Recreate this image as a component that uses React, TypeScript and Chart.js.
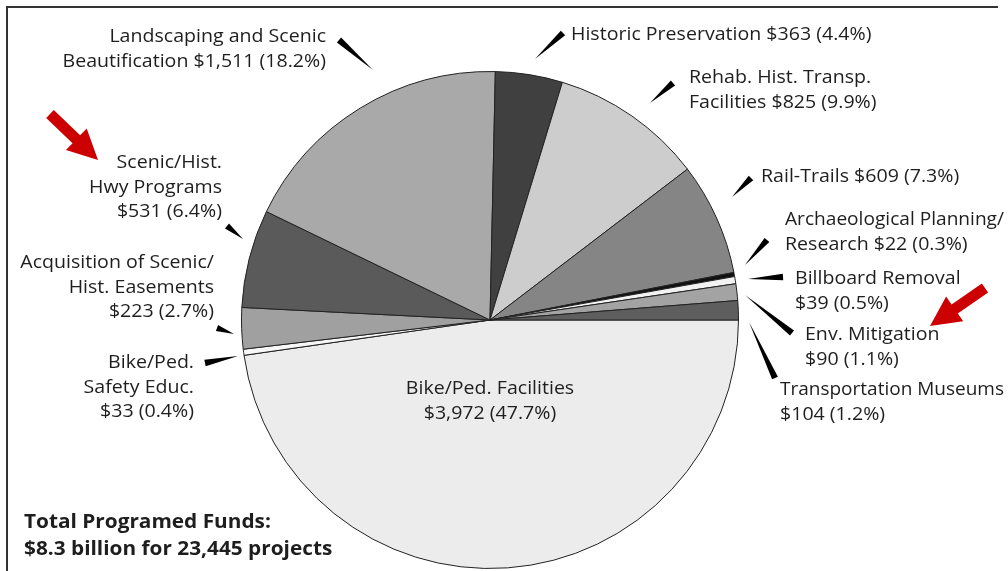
import React, { useEffect, useRef } from "react";
import { Chart, registerables } from "chart.js";

Chart.register(...registerables);

// ---- Data (millions of dollars, share of total) ----
const categories = [
  "Bike/Ped. Facilities",
  "Bike/Ped. Safety Educ.",
  "Acquisition of Scenic/Hist. Easements",
  "Scenic/Hist. Hwy Programs",
  "Landscaping and Scenic Beautification",
  "Historic Preservation",
  "Rehab. Hist. Transp. Facilities",
  "Rail-Trails",
  "Archaeological Planning/Research",
  "Billboard Removal",
  "Env. Mitigation",
  "Transportation Museums",
];
const fundsMillions = [3972, 33, 223, 531, 1511, 363, 825, 609, 22, 39, 90, 104];
const sharePercent = [47.7, 0.4, 2.7, 6.4, 18.2, 4.4, 9.9, 7.3, 0.3, 0.5, 1.1, 1.2];

// label text lines; {v} is replaced by "$value (share%)"
const labelLines: string[][] = [
  ["Bike/Ped. Facilities", "{v}"],
  ["Bike/Ped.", "Safety Educ.", "{v}"],
  ["Acquisition of Scenic/", "Hist. Easements", "{v}"],
  ["Scenic/Hist.", "Hwy Programs", "{v}"],
  ["Landscaping and Scenic", "Beautification {v}"],
  ["Historic Preservation {v}"],
  ["Rehab. Hist. Transp.", "Facilities {v}"],
  ["Rail-Trails {v}"],
  ["Archaeological Planning/", "Research {v}"],
  ["Billboard Removal", "{v}"],
  ["Env. Mitigation", "{v}"],
  ["Transportation Museums", "{v}"],
];

const totalLines = ["Total Programed Funds:", "$8.3 billion for 23,445 projects"];

// ---- Styles / layout ----
const sliceColors = [
  "#ececec", "#f7f7f7", "#a0a0a0", "#5a5a5a", "#a9a9a9", "#404040",
  "#cdcdcd", "#858585", "#111111", "#f2f2f2", "#a3a3a3", "#5e5e5e",
];

type LabelLayout = { align: CanvasTextAlign; x: number; y: number; wedge?: [number, number, number, number] };
const labelLayout: LabelLayout[] = [
  { align: "center", x: 490, y: 389 },
  { align: "right", x: 194, y: 363, wedge: [205, 363, 238, 356] },
  { align: "right", x: 214, y: 263, wedge: [217, 328, 234, 334] },
  { align: "right", x: 222, y: 163, wedge: [227, 226, 243, 239] },
  { align: "right", x: 326, y: 37, wedge: [339, 40, 373, 70] },
  { align: "left", x: 571, y: 35, wedge: [563, 33, 535, 59] },
  { align: "left", x: 689, y: 78, wedge: [673, 83, 650, 103] },
  { align: "left", x: 761, y: 177, wedge: [751, 178, 732, 197] },
  { align: "left", x: 785, y: 220, wedge: [767, 240, 745, 265] },
  { align: "left", x: 795, y: 279, wedge: [783, 277, 748, 279] },
  { align: "left", x: 805, y: 335, wedge: [792, 333, 745, 295] },
  { align: "left", x: 780, y: 390, wedge: [775, 378, 749, 322] },
];

const redArrows: [number, number, number, number][] = [
  [50, 114, 98, 160],
  [985, 288, 930, 326],
];

const FONT = '"Open Sans", "Noto Sans", sans-serif';
const LINE_H = 24.5;
const TEXT_SCALE_X = 1.03;
const RIGHT_LIMIT = 1004;

function fmtValue(i: number) {
  return "$" + fundsMillions[i].toLocaleString("en-US") + " (" + sharePercent[i].toFixed(1) + "%)";
}

function stretchedText(ctx: CanvasRenderingContext2D, t: string, x: number, y: number, sx: number, maxW?: number) {
  ctx.save();
  ctx.translate(x, y);
  ctx.scale(sx, 1);
  if (maxW !== undefined) ctx.fillText(t, 0, 0, maxW);
  else ctx.fillText(t, 0, 0);
  ctx.restore();
}

function drawWedge(ctx: CanvasRenderingContext2D, w: [number, number, number, number]) {
  const [x0, y0, x1, y1] = w;
  const dx = x1 - x0, dy = y1 - y0;
  const len = Math.hypot(dx, dy) || 1;
  const nx = -dy / len, ny = dx / len;
  const hw = 3.2;
  ctx.beginPath();
  ctx.moveTo(x0 + nx * hw, y0 + ny * hw);
  ctx.lineTo(x1, y1);
  ctx.lineTo(x0 - nx * hw, y0 - ny * hw);
  ctx.closePath();
  ctx.fillStyle = "#000";
  ctx.fill();
}

function drawArrow(ctx: CanvasRenderingContext2D, a: [number, number, number, number]) {
  const [x0, y0, x1, y1] = a;
  const dx = x1 - x0, dy = y1 - y0;
  const len = Math.hypot(dx, dy);
  const ux = dx / len, uy = dy / len;
  const nx = -uy, ny = ux;
  const headLen = 30, headW = 15, shaftW = 5.5;
  const bx = x1 - ux * headLen, by = y1 - uy * headLen;
  ctx.beginPath();
  ctx.moveTo(x0 + nx * shaftW, y0 + ny * shaftW);
  ctx.lineTo(bx + nx * shaftW, by + ny * shaftW);
  ctx.lineTo(bx + nx * headW, by + ny * headW);
  ctx.lineTo(x1, y1);
  ctx.lineTo(bx - nx * headW, by - ny * headW);
  ctx.lineTo(bx - nx * shaftW, by - ny * shaftW);
  ctx.lineTo(x0 - nx * shaftW, y0 - ny * shaftW);
  ctx.closePath();
  ctx.fillStyle = "#cc0000";
  ctx.fill();
}

const annotationsPlugin = {
  id: "annotations",
  afterDraw(chart: Chart) {
    const ctx = chart.ctx;
    ctx.save();
    // frame
    ctx.strokeStyle = "#333";
    ctx.lineWidth = 2;
    ctx.beginPath();
    ctx.moveTo(7, 571);
    ctx.lineTo(7, 7);
    ctx.lineTo(998, 7);
    ctx.stroke();

    ctx.textBaseline = "middle";
    ctx.font = "19px " + FONT;
    labelLines.forEach((lines, i) => {
      const L = labelLayout[i];
      ctx.textAlign = L.align;
      ctx.fillStyle = "#1e1e1e";
      const maxW = L.align === "left" ? (RIGHT_LIMIT - L.x) / TEXT_SCALE_X : undefined;
      lines.forEach((ln, k) => {
        stretchedText(ctx, ln.replace("{v}", fmtValue(i)), L.x, L.y + k * LINE_H, TEXT_SCALE_X, maxW);
      });
      if (L.wedge) drawWedge(ctx, L.wedge);
    });

    ctx.fillStyle = "#1e1e1e";
    ctx.textAlign = "left";
    ctx.font = "bold 20px " + FONT;
    totalLines.forEach((t, k) => stretchedText(ctx, t, 24, 522 + k * 27, 1.04));

    redArrows.forEach((a) => drawArrow(ctx, a));
    ctx.restore();
  },
};

export default function App() {
  const ref = useRef<HTMLCanvasElement | null>(null);
  useEffect(() => {
    if (!ref.current) return;
    const chart = new Chart(ref.current, {
      type: "pie",
      data: {
        labels: categories,
        datasets: [
          {
            data: fundsMillions,
            backgroundColor: sliceColors,
            borderColor: "#222",
            borderWidth: 1,
          },
        ],
      },
      options: {
        responsive: false,
        animation: false,
        rotation: 90,
        layout: { padding: { top: 71, bottom: 2, left: 241, right: 269 } },
        plugins: {
          legend: { display: false },
          tooltip: { enabled: false },
        },
      },
      plugins: [annotationsPlugin],
    });
    return () => chart.destroy();
  }, []);
  return (
    <div style={{ position: "absolute", left: 0, top: 0, width: 1008, height: 571, background: "#fff" }}>
      <canvas ref={ref} width={1008} height={571} style={{ display: "block" }} />
    </div>
  );
}
